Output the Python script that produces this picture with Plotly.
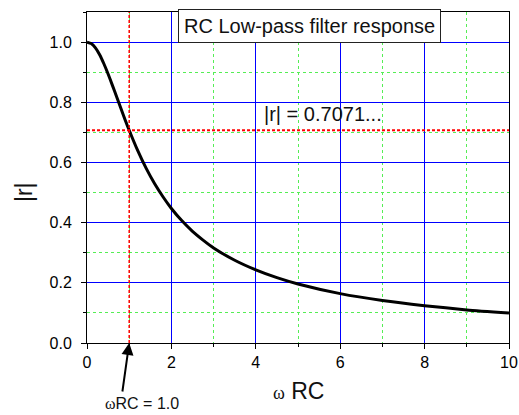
import plotly.graph_objects as go

# Values
omega_rc = [0, 0.1, 0.2, 0.3, 0.4, 0.5, 0.6, 0.7, 0.8, 0.9, 1.0, 1.2, 1.4, 1.6, 1.8, 2.0,
            2.25, 2.5, 2.75, 3.0, 3.5, 4.0, 4.5, 5.0, 6.0, 7.0, 8.0, 9.0, 10.0]
r_mag = [1.0, 0.995, 0.981, 0.958, 0.928, 0.894, 0.857, 0.819, 0.781, 0.743, 0.707,
         0.640, 0.581, 0.530, 0.486, 0.447, 0.406, 0.371, 0.342, 0.316, 0.275, 0.243,
         0.217, 0.196, 0.164, 0.141, 0.124, 0.110, 0.0995]

cutoff_x = 1.0
cutoff_y = 0.7071
x_ticks = [0, 2, 4, 6, 8, 10]
y_ticks = [0.0, 0.2, 0.4, 0.6, 0.8, 1.0]
y_tick_text = ["0.0", "0.2", "0.4", "0.6", "0.8", "1.0"]

FONT = "Liberation Sans, Arial, sans-serif"

fig = go.Figure()
fig.add_trace(go.Scatter(x=omega_rc, y=r_mag, mode="lines",
                         line=dict(color="black", width=3, shape="spline", smoothing=0.6),
                         showlegend=False, hoverinfo="skip"))

# reference lines
fig.add_shape(type="line", x0=0, x1=10, y0=cutoff_y, y1=cutoff_y, xref="x", yref="y",
              line=dict(color="#ff0000", width=2, dash="3px,2px"), layer="above")
fig.add_shape(type="line", x0=cutoff_x, x1=cutoff_x, y0=0, y1=1.1, xref="x", yref="y",
              line=dict(color="#ff0000", width=1.5, dash="3px,2px"), layer="above")

fig.update_xaxes(range=[0, 10], tickvals=x_ticks, ticktext=[str(v) for v in x_ticks],
                 showgrid=True, gridcolor="#0000ff", gridwidth=1, automargin=False,
                 showline=True, linecolor="black", linewidth=1, mirror=True,
                 ticks="outside", ticklen=5, tickcolor="black", tickwidth=1,
                 tickfont=dict(family=FONT, size=16, color="black"),
                 minor=dict(dtick=1, tick0=0, showgrid=True, gridcolor="#55ee55", griddash="dot",
                            gridwidth=1, ticks="outside", ticklen=3, tickcolor="black"),
                 zeroline=False, fixedrange=True)
fig.update_yaxes(range=[0, 1.1], tickvals=y_ticks, ticktext=y_tick_text,
                 showgrid=True, gridcolor="#0000ff", gridwidth=1, automargin=False,
                 showline=True, linecolor="black", linewidth=1, mirror=True,
                 ticks="outside", ticklen=5, tickcolor="black", tickwidth=1,
                 tickfont=dict(family=FONT, size=16, color="black"),
                 ticklabelstandoff=6,
                 minor=dict(dtick=0.1, tick0=0, showgrid=True, gridcolor="#55ee55", griddash="dot",
                            gridwidth=1, ticks="outside", ticklen=3, tickcolor="black"),
                 zeroline=False, fixedrange=True)

# title box
fig.add_annotation(x=5.28, y=1.053, xref="x", yref="y", text="RC Low-pass filter response",
                   showarrow=False, font=dict(family=FONT, size=20, color="#111"),
                   bgcolor="white", bordercolor="#222", borderwidth=1, borderpad=5,
                   xanchor="center", yanchor="middle")
# cutoff label
fig.add_annotation(x=4.15, y=cutoff_y, xref="x", yref="y", text="|r| = 0.7071...",
                   showarrow=False, font=dict(family=FONT, size=20, color="#111"),
                   xanchor="left", yanchor="bottom", yshift=3)
# arrow to omega RC = 1
fig.add_annotation(x=cutoff_x, y=0, xref="x", yref="y", text="", showarrow=True,
                   arrowhead=2, arrowsize=1.2, arrowwidth=2, arrowcolor="black",
                   ax=-7, ay=50, axref="pixel", ayref="pixel")
fig.add_annotation(x=(142 - 87) / 422.5, y=-(404 - 343) / 331, xref="paper", yref="paper",
                   text="<span style='font-family:Liberation Serif'>ω</span>RC = 1.0",
                   showarrow=False, font=dict(family=FONT, size=16, color="#111"),
                   xanchor="center", yanchor="middle")
# axis titles
fig.add_annotation(x=0.5, y=-(391 - 343) / 331, xref="paper", yref="paper",
                   text="<span style='font-family:Liberation Serif;font-size:18px'>ω</span> RC",
                   showarrow=False, font=dict(family=FONT, size=23, color="#111"),
                   xanchor="center", yanchor="middle")
fig.add_annotation(x=-(87 - 24) / 422.5, y=(343 - 192) / 331, xref="paper", yref="paper",
                   text="|r|", textangle=-90,
                   showarrow=False, font=dict(family=FONT, size=23, color="#111"),
                   xanchor="center", yanchor="middle")

fig.update_layout(width=519, height=415, margin=dict(l=87, r=10, t=12, b=72),
                  paper_bgcolor="white", plot_bgcolor="white", showlegend=False)

fig.write_html("out.html", config={"displayModeBar": False})
